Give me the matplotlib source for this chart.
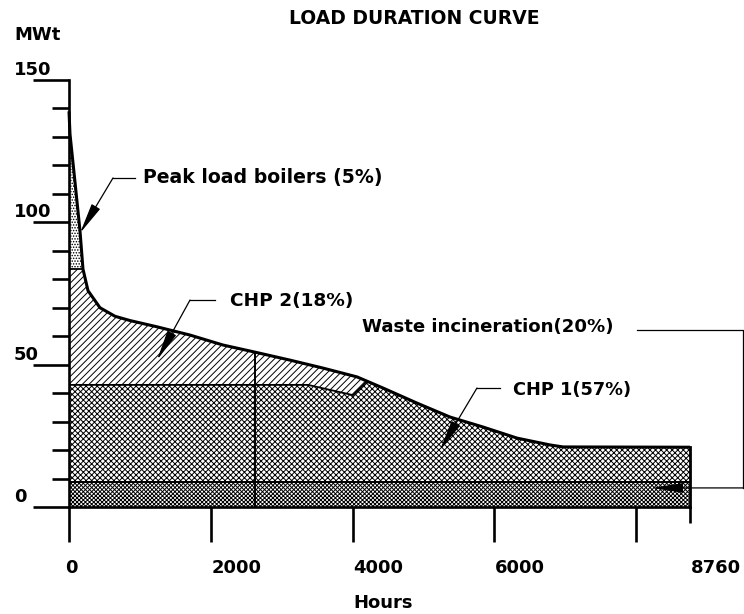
import numpy as np
import matplotlib
matplotlib.use("Agg")
import matplotlib.pyplot as plt

plt.rcParams['font.family'] = ['DejaVu Sans']
plt.rcParams['hatch.linewidth'] = 0.7
plt.rcParams['hatch.color'] = 'black'

# ---- data ----
hours = [0, 14, 85, 155, 197, 268, 437, 649, 860, 1241, 1707, 2172, 2624, 3117,
         3583, 4063, 4429, 4909, 5375, 5840, 6320, 6785, 6969, 8760]
load = [139, 131, 114, 97, 83.6, 76, 70, 67, 65.5, 63.3, 60.4, 56.9, 54.4, 51.6,
        48.8, 45.7, 41.8, 36.5, 31.6, 28.1, 24.2, 21.8, 21.1, 21]
waste_level = 8.8
peak_level = 83.6
chp1_hours = [0, 3371, 4006, 4204]
chp1_top = [42.9, 42.9, 39.3, 44.2]
split_hour = 2624

y_major = [0, 50, 100, 150]
y_minor = list(range(0, 151, 10))
x_major = [0, 2000, 4000, 6000, 8000]
x_labels = [0, 2000, 4000, 6000, 8760]
labels = ["Peak load boilers (5%)", "CHP 2(18%)", "Waste incineration(20%)", "CHP 1(57%)"]

W, H = 744, 614
fig = plt.figure(figsize=(W / 100, H / 100), dpi=100)
ax = fig.add_axes([69 / W, 1 - 507 / H, 621 / W, 427 / H])
ax.set_xlim(0, 8760)
ax.set_ylim(0, 150)

hrs = np.array(hours, float)
ld = np.array(load, float)
x = np.union1d(np.linspace(0, 8760, 3000), hrs)
curve = np.interp(x, hrs, ld)
chp1_end = chp1_hours[-1]
chp1_upper = np.where(x <= chp1_end, np.interp(x, chp1_hours, chp1_top), curve)

# fills
ax.fill_between(x, 0, waste_level, facecolor='white', edgecolor='black', hatch='x' * 8, linewidth=0)
ax.fill_between(x, waste_level, chp1_upper, facecolor='white', edgecolor='black', hatch='x' * 6, linewidth=0)
chp2_top = np.minimum(curve, peak_level)
ax.fill_between(x, chp1_upper, chp2_top, where=(x <= chp1_end), facecolor='white',
                edgecolor='black', hatch='/' * 5, linewidth=0)
ax.fill_between(x, peak_level, curve, where=(curve >= peak_level), interpolate=True,
                facecolor='white', edgecolor='black', hatch='.' * 6, linewidth=0)

# boundary lines
ax.plot(hours, load, color='black', lw=2.2, solid_capstyle='butt', clip_on=False, zorder=5)
ax.plot([0, 8760], [waste_level, waste_level], color='black', lw=1.4, zorder=4)
ax.plot(chp1_hours, chp1_top, color='black', lw=1.3, zorder=4)
peak_cross = np.interp(-peak_level, -ld, hrs)
ax.plot([0, peak_cross], [peak_level, peak_level], color='black', lw=1.3, zorder=4)
ax.plot([split_hour, split_hour], [0, np.interp(split_hour, hrs, ld)], color='black', lw=1.4, zorder=4)
ax.plot([8760, 8760], [0, load[-1]], color='black', lw=2.0, zorder=5, clip_on=False)

# axes styling
for s in ['top', 'right']:
    ax.spines[s].set_visible(False)
ax.spines['left'].set_bounds(0, 150)
ax.spines['bottom'].set_bounds(0, 8760)
for s in ['left', 'bottom']:
    ax.spines[s].set_linewidth(1.9)
    ax.spines[s].set_zorder(6)
ax.set_yticks(y_major)
ax.set_yticks(y_minor, minor=True)
ax.set_xticks(x_major)
ax.set_xticks([8760], minor=True)
ax.tick_params(axis='y', which='major', direction='out', length=26, width=1.9, labelleft=False)
ax.tick_params(axis='y', which='minor', direction='out', length=12.3, width=1.9)
ax.tick_params(axis='x', which='major', direction='out', length=25, width=1.9, labelbottom=False)
ax.tick_params(axis='x', which='minor', direction='out', length=11.5, width=1.9)

fs = 13
for v in y_major:
    ax.annotate(str(v), xy=(0, v), xycoords=('axes fraction', 'data'), xytext=(-55, 10),
                textcoords='offset pixels', ha='left', va='center', fontsize=fs, fontweight='bold')
for v in x_labels:
    ax.annotate(str(v), xy=(v, 0), xycoords=('data', 'axes fraction'),
                xytext=(2 if v == 0 else 1, -61), textcoords='offset pixels',
                ha='center' if v == 0 else 'left', va='center', fontsize=fs, fontweight='bold')

fig.text(414 / W, 1 - 18 / H, "LOAD DURATION CURVE", ha='center', va='center', fontsize=13.5, fontweight='bold')
fig.text(14 / W, 1 - 35 / H, "MWt", ha='left', va='center', fontsize=fs, fontweight='bold')
fig.text(383 / W, 1 - 603 / H, "Hours", ha='center', va='center', fontsize=fs, fontweight='bold')

# annotation labels with leaders
text_pos = [(1044, 115.6), (2271, 72.4), (4133, 63.2), (6263, 41.1)]
label_sizes = [13.6, 13.3, 13.1, 12.8]
leaders = [
    [(931, 115.6), (621, 115.6), (155, 96.2)],
    [(2060, 72.7), (1707, 72.7), (1241, 51.6)],
    [(8012, 62.2), (9508, 62.2), (9508, 6.7), (8224, 6.7)],
    [(6080, 41.8), (5755, 41.8), (5233, 20.0)],
]
for lab, (tx, ty), sz, pts in zip(labels, text_pos, label_sizes, leaders):
    ax.text(tx, ty, lab, ha='left', va='center', fontsize=sz, fontweight='bold', clip_on=False)
    xs = [p[0] for p in pts[:-1]]
    ys = [p[1] for p in pts[:-1]]
    ax.plot(xs, ys, color='black', lw=0.9, clip_on=False, zorder=7)
    ax.annotate('', xy=pts[-1], xytext=pts[-2], annotation_clip=False, zorder=7,
                arrowprops=dict(arrowstyle='-|>,head_length=1.9,head_width=0.3',
                                mutation_scale=10, color='black', lw=0.9,
                                shrinkA=0, shrinkB=0))

fig.savefig('out.png', dpi=100)
